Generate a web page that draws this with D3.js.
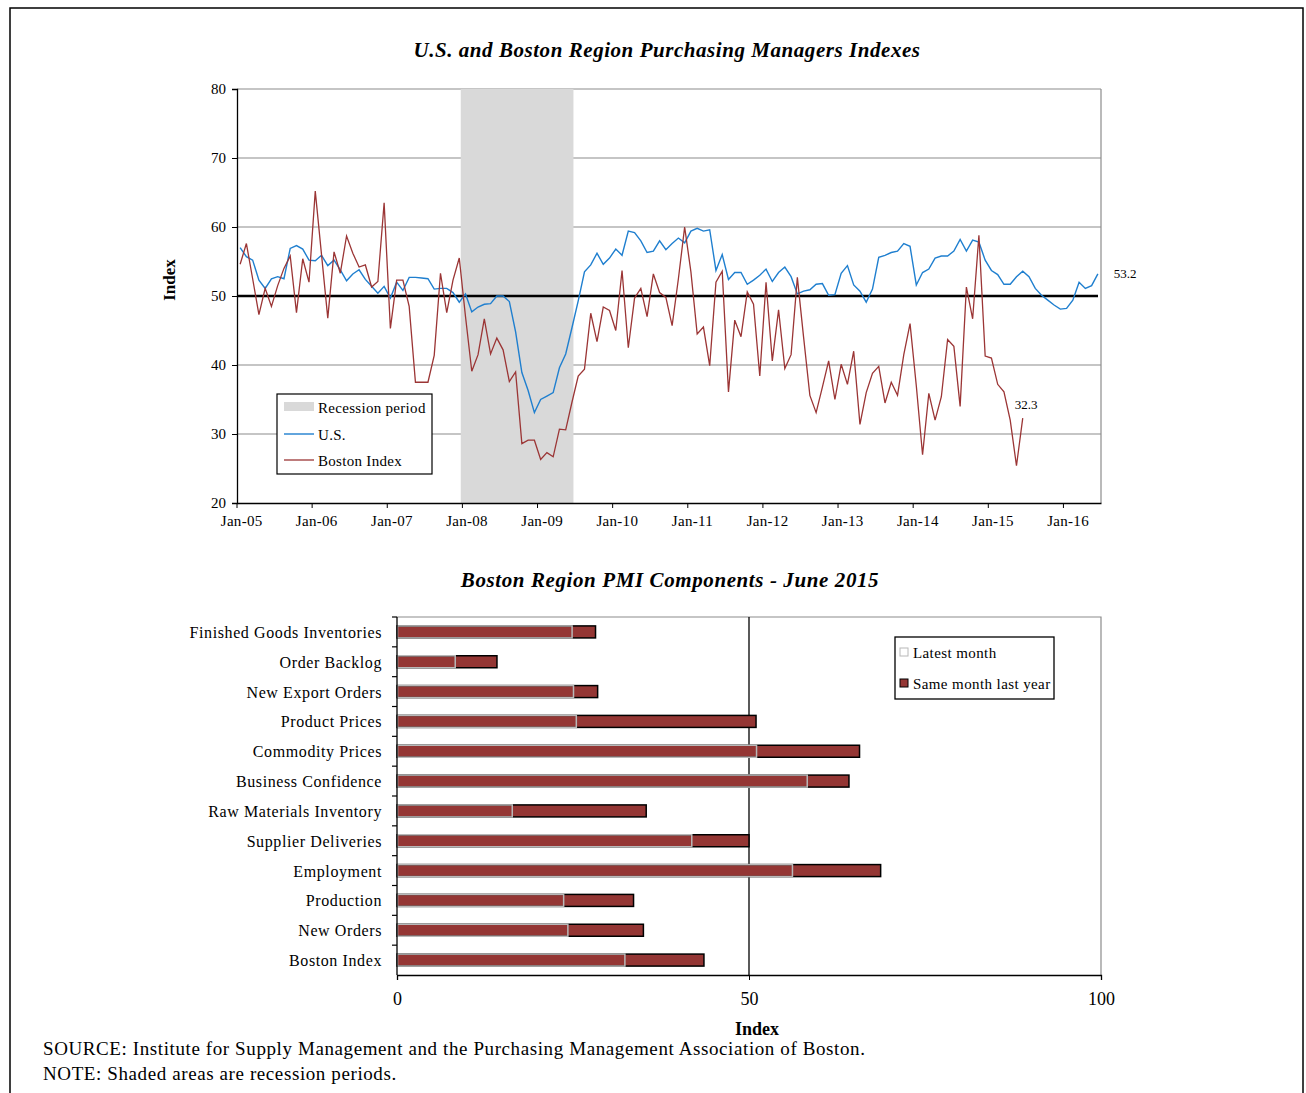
<!DOCTYPE html>
<html>
<head>
<meta charset="utf-8">
<script src="https://cdn.jsdelivr.net/npm/d3@7"></script>
<style>
  body { margin: 0; background: #fff; }
  svg text { font-family: "Liberation Serif", "Times New Roman", serif; fill: #000; }
</style>
</head>
<body>
<div id="root"></div>
<script>
// ---- data: top chart (monthly, starting Jan-05) ----
const usPmi = [
  57.0, 55.7, 55.2, 52.3, 51.1, 52.5, 52.8, 52.5, 56.9, 57.3, 56.8, 55.2,
  55.1, 55.9, 54.4, 55.2, 53.8, 52.2, 53.2, 53.8, 52.4, 51.4, 50.4, 51.4,
  49.7, 52.0, 50.8, 52.7, 52.7, 52.6, 52.5, 51.0, 51.1, 51.1, 50.5, 49.1,
  50.3, 47.7, 48.4, 48.8, 48.9, 50.0, 50.0, 49.2, 44.8, 38.9, 36.3, 33.1,
  35.0, 35.5, 36.0, 39.6, 41.6, 45.4, 49.3, 53.5, 54.5, 56.2, 54.6, 55.5,
  56.8, 55.9, 59.4, 59.2, 58.0, 56.3, 56.5, 58.0, 56.7, 57.6, 58.4, 57.7,
  59.4, 59.8, 59.4, 59.6, 53.7, 56.0, 52.4, 53.4, 53.4, 51.7, 52.3, 53.0,
  53.9, 52.1, 53.4, 54.2, 52.8, 50.3, 50.7, 50.9, 51.7, 51.8, 50.1, 50.2,
  53.3, 54.4, 51.6, 50.7, 49.1, 51.0, 55.6, 55.9, 56.3, 56.5, 57.6, 57.2,
  51.6, 53.4, 53.9, 55.5, 55.8, 55.8, 56.5, 58.2, 56.5, 58.1, 57.8, 55.2,
  53.7, 53.1, 51.7, 51.7, 52.8, 53.6, 52.8, 51.1, 50.1, 49.4, 48.7, 48.1,
  48.2, 49.4, 52.0, 51.1, 51.5, 53.2
]
const bostonPmi = [
  54.6, 57.6, 52.5, 47.3, 51.1, 48.5, 51.5, 54.0, 55.8, 47.6, 55.4, 52.0,
  65.2, 56.0, 46.8, 56.4, 53.3, 58.7, 56.2, 54.2, 54.5, 51.3, 52.1, 63.5,
  45.3, 52.3, 52.3, 48.5, 37.5, 37.5, 37.5, 41.4, 53.3, 47.6, 52.3, 55.5,
  47.0, 39.1, 41.5, 46.7, 41.6, 43.9, 42.2, 37.6, 39.0, 28.6, 29.1, 29.1,
  26.3, 27.3, 26.7, 30.7, 30.6, 34.6, 38.4, 39.4, 47.5, 43.4, 48.4, 47.9,
  45.0, 53.7, 42.5, 49.7, 51.1, 47.0, 53.2, 50.5, 49.8, 45.7, 52.5, 60.0,
  53.5, 44.5, 45.5, 39.9, 52.0, 53.6, 36.1, 46.5, 44.1, 50.6, 48.8, 38.4,
  52.0, 40.6, 48.0, 39.5, 41.5, 52.7, 44.0, 35.6, 33.1, 36.8, 40.6, 35.0,
  40.1, 37.2, 42.0, 31.4, 36.0, 38.8, 39.8, 34.5, 37.5, 35.6, 41.5, 46.0,
  37.0, 27.0, 35.9, 32.0, 35.4, 43.7, 42.7, 34.0, 51.3, 46.7, 58.8, 41.3,
  41.0, 37.2, 36.1, 32.0, 25.4, 32.3
]
const recession = ["Dec-07", "Jun-09"]
const yTicks = [20, 30, 40, 50, 60, 70, 80]
const xTickLabels = ["Jan-05","Jan-06","Jan-07","Jan-08","Jan-09","Jan-10",
                     "Jan-11","Jan-12","Jan-13","Jan-14","Jan-15","Jan-16"]

// ---- data: bar chart ----
const components = ["Finished Goods Inventories","Order Backlog","New Export Orders",
  "Product Prices","Commodity Prices","Business Confidence","Raw Materials Inventory",
  "Supplier Deliveries","Employment","Production","New Orders","Boston Index"]
const latestMonth = [24.8, 8.2, 25.0, 25.4, 51.0, 58.2, 16.3, 41.8, 56.1, 23.6, 24.2, 32.3]
const lastYear    = [28.2, 14.2, 28.5, 51.0, 65.7, 64.2, 35.4, 50.0, 68.7, 33.6, 35.0, 43.6]
const barTicks = [0, 50, 100]

const fmt = d3.timeFormat("%b-%y")
const months = d3.range(usPmi.length).map(i => fmt(new Date(2005, i, 1)))

const US_COLOR = "#1f7fcf"
const BOS_COLOR = "#9b3535"
const BAR_COLOR = "#943634"

const svg = d3.select("#root").append("svg")
  .attr("width", 1306).attr("height", 1093)

// outer frame
svg.append("rect")
  .attr("x", 10).attr("y", 8).attr("width", 1293).attr("height", 1100)
  .attr("fill", "none").attr("stroke", "#000").attr("stroke-width", 1.5)

// ================= top chart =================
const tp = {left: 237, right: 1101, top: 89, bottom: 503}
const x = d3.scaleBand().domain(months).range([tp.left, tp.right])
const xc = m => x(m) + x.bandwidth() / 2
const y = d3.scaleLinear().domain([20, 80]).range([tp.bottom, tp.top])

svg.append("text")
  .attr("x", 667).attr("y", 57).attr("text-anchor", "middle")
  .style("font-size", "21px").style("font-weight", "bold").style("font-style", "italic")
  .style("letter-spacing", "0.55px")
  .text("U.S. and Boston Region Purchasing Managers Indexes")

// gridlines
svg.append("g").selectAll("line").data(yTicks.filter(d => d > 20 && d !== 50))
  .join("line")
  .attr("x1", tp.left).attr("x2", tp.right)
  .attr("y1", d => y(d)).attr("y2", d => y(d))
  .attr("stroke", "#8c8c8c").attr("stroke-width", 1.2)

// recession shading
svg.append("rect")
  .attr("x", xc(recession[0]) + 1.5)
  .attr("y", tp.top)
  .attr("width", xc(recession[1]) - xc(recession[0]))
  .attr("height", tp.bottom - tp.top)
  .attr("fill", "#d9d9d9")

// right border
svg.append("line")
  .attr("x1", tp.right).attr("x2", tp.right).attr("y1", tp.top).attr("y2", tp.bottom)
  .attr("stroke", "#8c8c8c").attr("stroke-width", 1.2)

// 50 reference line
svg.append("line")
  .attr("x1", tp.left).attr("x2", tp.right - 3)
  .attr("y1", y(50)).attr("y2", y(50))
  .attr("stroke", "#000").attr("stroke-width", 2.5)

// y axis
const yAxis = svg.append("g").attr("transform", `translate(${tp.left},0)`)
  .call(d3.axisLeft(y).tickValues(yTicks).tickSize(5).tickPadding(6))
yAxis.select(".domain").attr("stroke", "#000").attr("stroke-width", 1.3)
yAxis.selectAll("text").style("font-size", "15px").attr("font-family", null)

// x axis
const xAxis = svg.append("g").attr("transform", `translate(0,${tp.bottom})`)
  .call(d3.axisBottom(x).tickValues(xTickLabels).tickSize(0).tickPadding(12))
xAxis.select(".domain").attr("stroke", "#000").attr("stroke-width", 1.3)
xAxis.selectAll("text").style("font-size", "15px").style("letter-spacing", "0.3px")
  .attr("font-family", null).attr("dx", 1.5)
xAxis.selectAll(".tick").append("line")
  .attr("x1", -x.bandwidth() / 2).attr("x2", -x.bandwidth() / 2)
  .attr("y1", 0).attr("y2", 5).attr("stroke", "#000")

svg.append("text")
  .attr("transform", `translate(175,${(tp.top + tp.bottom) / 2 - 16}) rotate(-90)`)
  .attr("text-anchor", "middle")
  .style("font-size", "17px").style("font-weight", "bold")
  .text("Index")

// series
const line = d3.line().x((d, i) => xc(months[i])).y(d => y(d))
svg.append("path").datum(usPmi)
  .attr("d", line).attr("fill", "none")
  .attr("stroke", US_COLOR).attr("stroke-width", 1.4)
svg.append("path").datum(bostonPmi)
  .attr("d", line).attr("fill", "none")
  .attr("stroke", BOS_COLOR).attr("stroke-width", 1.3)

// end labels
svg.append("text")
  .attr("x", xc(months[usPmi.length - 1]) + 16).attr("y", y(usPmi[usPmi.length - 1]) + 4)
  .style("font-size", "13px").text(usPmi[usPmi.length - 1].toFixed(1))
svg.append("text")
  .attr("x", xc(months[bostonPmi.length - 1]) - 8).attr("y", y(bostonPmi[bostonPmi.length - 1]) - 9)
  .style("font-size", "13px").text(bostonPmi[bostonPmi.length - 1].toFixed(1))

// legend
const lg = svg.append("g").attr("transform", "translate(277,394)")
lg.append("rect").attr("width", 155).attr("height", 80)
  .attr("fill", "#fff").attr("stroke", "#000").attr("stroke-width", 1.2)
lg.append("rect").attr("x", 7).attr("y", 8).attr("width", 30).attr("height", 9).attr("fill", "#d9d9d9")
lg.append("line").attr("x1", 7).attr("x2", 37).attr("y1", 40).attr("y2", 40)
  .attr("stroke", US_COLOR).attr("stroke-width", 1.4)
lg.append("line").attr("x1", 7).attr("x2", 37).attr("y1", 66).attr("y2", 66)
  .attr("stroke", BOS_COLOR).attr("stroke-width", 1.3)
lg.selectAll("text").data(["Recession period", "U.S.", "Boston Index"]).join("text")
  .attr("x", 41).attr("y", (d, i) => 19 + i * 26.5)
  .style("font-size", "15px").style("letter-spacing", "0.3px").text(d => d)

// ================= bar chart =================
const bot = {left: 397, right: 1101, top: 617, bottom: 975}
const bx = d3.scaleLinear().domain([0, 100]).range([bot.left, bot.right])
const by = d3.scaleBand().domain(components).range([bot.top, bot.bottom])
const barH = 12

svg.append("text")
  .attr("x", 670).attr("y", 587).attr("text-anchor", "middle")
  .style("font-size", "21px").style("font-weight", "bold").style("font-style", "italic")
  .style("letter-spacing", "0.6px")
  .text("Boston Region PMI Components - June  2015")

// top and right borders
svg.append("path")
  .attr("d", `M${bot.left},${bot.top}H${bot.right}V${bot.bottom}`)
  .attr("fill", "none").attr("stroke", "#8c8c8c").attr("stroke-width", 1.2)

// gridline at 50
svg.append("line")
  .attr("x1", bx(50)).attr("x2", bx(50)).attr("y1", bot.top).attr("y2", bot.bottom)
  .attr("stroke", "#000").attr("stroke-width", 1.3)

// bars: same month last year, then latest month outline on top
svg.append("g").selectAll("rect").data(components).join("rect")
  .attr("x", bx(0))
  .attr("y", d => by(d) + by.bandwidth() / 2 - barH / 2)
  .attr("width", (d, i) => bx(lastYear[i]) - bx(0))
  .attr("height", barH)
  .attr("fill", BAR_COLOR).attr("stroke", "#000").attr("stroke-width", 1.5)
svg.append("g").selectAll("rect").data(components).join("rect")
  .attr("x", bx(0) + 0.5)
  .attr("y", d => by(d) + by.bandwidth() / 2 - barH / 2)
  .attr("width", (d, i) => bx(latestMonth[i]) - bx(0))
  .attr("height", barH)
  .attr("fill", "none").attr("stroke", "#b8b8b8").attr("stroke-width", 1.5)

// left axis with ticks between categories
const la = svg.append("g")
la.append("line").attr("x1", bot.left).attr("x2", bot.left).attr("y1", bot.top).attr("y2", bot.bottom)
  .attr("stroke", "#000").attr("stroke-width", 1.3)
la.selectAll(".tk").data(components).join("line").attr("class", "tk")
  .attr("x1", bot.left - 5).attr("x2", bot.left)
  .attr("y1", d => by(d)).attr("y2", d => by(d))
  .attr("stroke", "#000").attr("stroke-width", 1.2)
la.selectAll("text").data(components).join("text")
  .attr("x", 382).attr("y", d => by(d) + by.bandwidth() / 2 + 6)
  .attr("text-anchor", "end").style("font-size", "16px").style("letter-spacing", "0.6px")
  .text(d => d)

// bottom axis
const ba = svg.append("g").attr("transform", `translate(0,${bot.bottom})`)
  .call(d3.axisBottom(bx).tickValues(barTicks).tickSize(5).tickPadding(12))
ba.select(".domain").attr("stroke", "#000").attr("stroke-width", 1.3)
ba.selectAll("text").style("font-size", "18px").attr("font-family", null)

svg.append("text")
  .attr("x", 757).attr("y", 1035).attr("text-anchor", "middle")
  .style("font-size", "18px").style("font-weight", "bold").text("Index")

// bar legend
const bl = svg.append("g").attr("transform", "translate(895,637)")
bl.append("rect").attr("width", 159).attr("height", 62)
  .attr("fill", "#fff").attr("stroke", "#000").attr("stroke-width", 1.3)
bl.append("rect").attr("x", 5).attr("y", 11).attr("width", 8).attr("height", 8)
  .attr("fill", "#fff").attr("stroke", "#b8b8b8")
bl.append("rect").attr("x", 5).attr("y", 42).attr("width", 8).attr("height", 8)
  .attr("fill", BAR_COLOR).attr("stroke", "#000")
bl.selectAll("text").data(["Latest month", "Same month last year"]).join("text")
  .attr("x", 18).attr("y", (d, i) => 21 + i * 31)
  .style("font-size", "15px").style("letter-spacing", "0.4px").text(d => d)

// notes
svg.append("text").attr("x", 43).attr("y", 1055)
  .style("font-size", "19px").style("letter-spacing", "0.6px")
  .text("SOURCE: Institute for Supply Management and the Purchasing Management Association of Boston.")
svg.append("text").attr("x", 43).attr("y", 1080)
  .style("font-size", "19px").style("letter-spacing", "0.6px")
  .text("NOTE: Shaded areas are recession periods.")
</script>
</body>
</html>
